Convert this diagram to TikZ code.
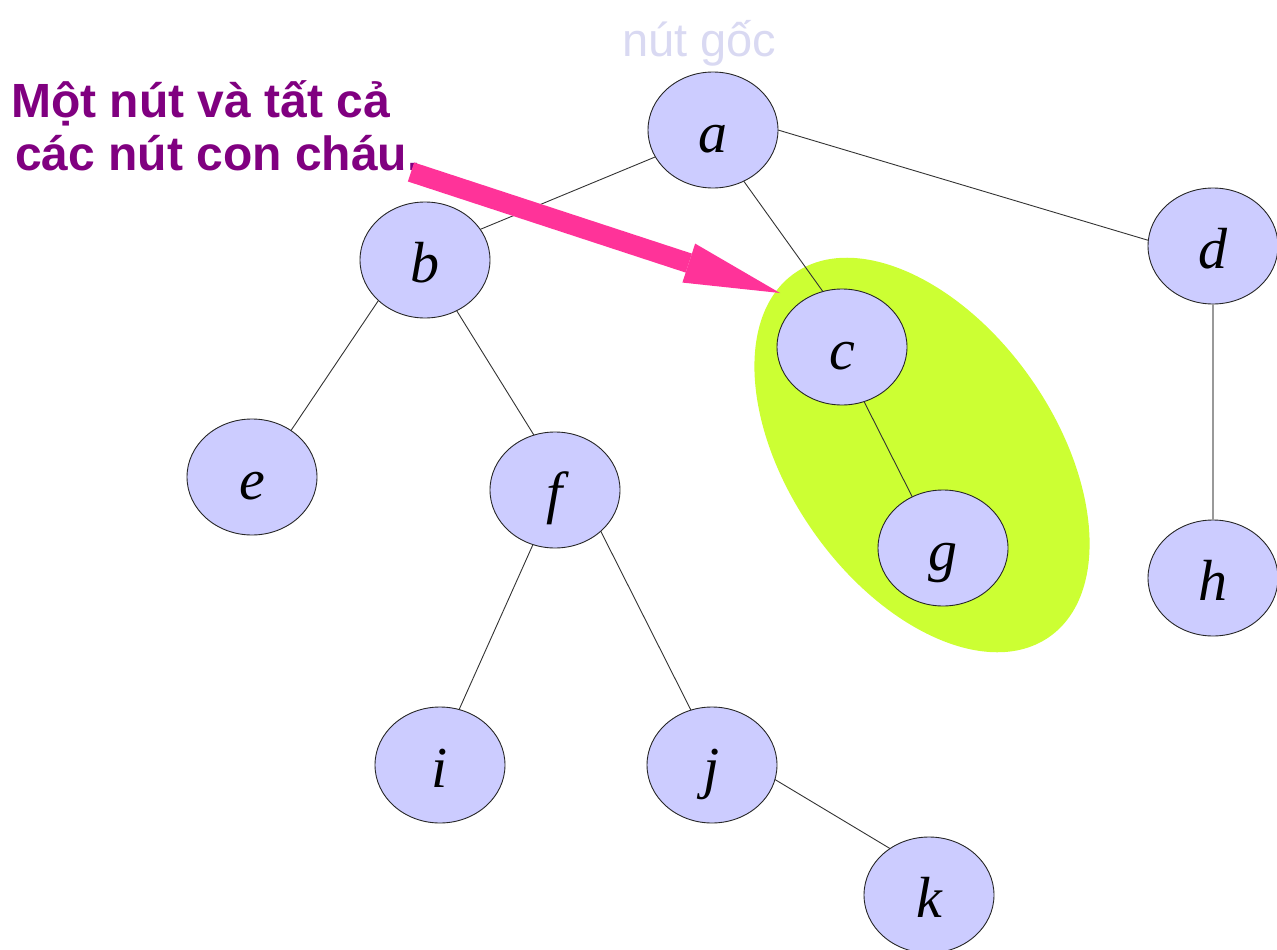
\documentclass[tikz,border=0pt]{standalone}
\usepackage{fontspec}
\setmainfont{Liberation Sans}
\newfontfamily\tnr{Liberation Serif}
\usetikzlibrary{shapes.geometric,arrows.meta}
\definecolor{nodeblue}{HTML}{CCCCFF}
\definecolor{subgreen}{HTML}{CCFF33}
\definecolor{arrowpink}{HTML}{FF3399}
\definecolor{captionpurple}{HTML}{800080}
\definecolor{rootlabel}{HTML}{D9D9F2}
\tikzset{
  tn/.style={ellipse, draw=black!85, line width=0.9pt, fill=nodeblue,
    minimum width=130pt, minimum height=116pt, inner sep=0pt, outer sep=0pt,
    font=\tnr\itshape\fontsize{58}{62}\selectfont, text height=50pt, text depth=6pt},
  treeline/.style={draw=black!80, line width=0.9pt},
  grayline/.style={draw=black!40, line width=1.4pt},
  caption/.style={anchor=base west, inner sep=0pt, text=captionpurple,
    font=\bfseries\fontsize{48}{53}\selectfont},
  pinkarrow/.style={draw=arrowpink, line width=20pt,
    -{Triangle[length=96pt,width=41pt,line width=0pt]}}
}
\begin{document}
\begin{tikzpicture}[x=1pt,y=-1pt]
\useasboundingbox (0,0) rectangle (1277,950);
% highlighted subtree
\node[ellipse, fill=subgreen, minimum width=444pt, minimum height=266pt,
  inner sep=0pt, rotate=-55] (sub) at (922,455) {};
% tree nodes
\node[tn] (a) at (713,130) {a};
\node[tn] (b) at (425,260) {b};
\node[tn] (c) at (842,347) {c};
\node[tn] (d) at (1213,246) {d};
\node[tn] (e) at (252,477) {e};
\node[tn] (f) at (555,490) {f};
\node[tn] (g) at (943,548) {g};
\node[tn] (h) at (1213,578) {h};
\node[tn] (i) at (440,765) {i};
\node[tn] (j) at (712,765) {j};
\node[tn] (k) at (929,895) {k};
% edges
\draw[treeline] (a.205) -- (b.29);
\draw[treeline] (a.301) -- (c.109);
\draw[treeline] (a.0) -- (d.175);
\draw[treeline] (b.221) -- (e.50);
\draw[treeline] (b.302) -- (f.111);
\draw[treeline] (c.292) -- (g.121);
\draw[grayline] (d.south) -- (h.north);
\draw[treeline] (f.248) -- (i.71);
\draw[treeline] (f.318) -- (j.111);
\draw[treeline] (j.347) -- (k.130);
% labels
\node[anchor=base west, inner sep=0pt, text=rootlabel,
  font=\fontsize{47}{53}\selectfont] (root) at (622,57) {nút gốc};
\node[caption] (cap1) at (11,117) {Một nút và tất cả};
\node[caption] (cap2) at (15,170) {các nút con cháu.};
% arrow
\coordinate (arrS) at (411,172);
\coordinate (arrT) at (780,293);
\draw[pinkarrow] (arrS) -- (arrT);
\end{tikzpicture}
\end{document}
